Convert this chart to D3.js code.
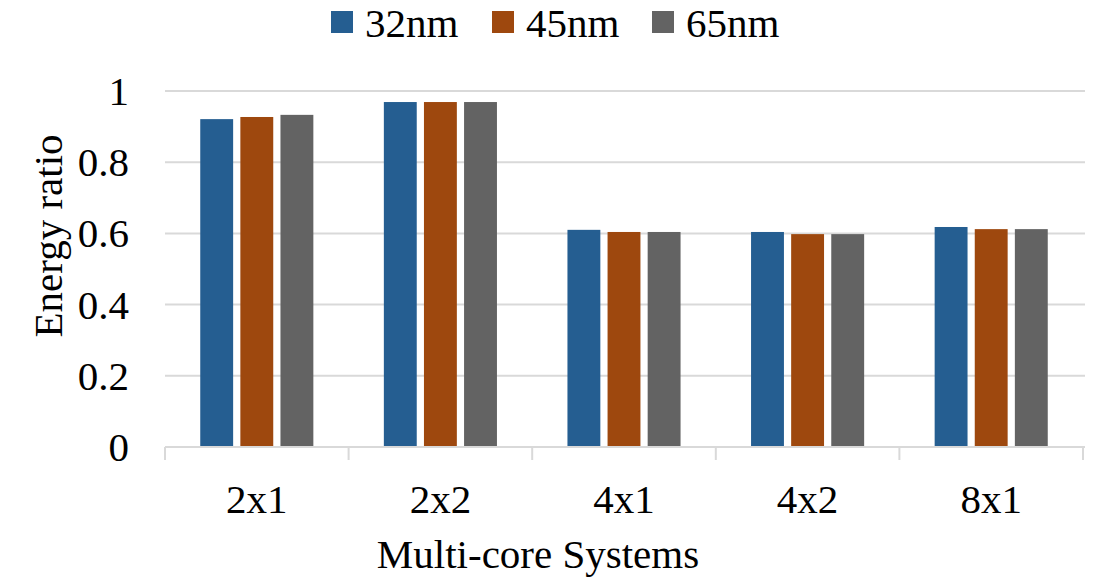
<!DOCTYPE html>
<html><head><meta charset="utf-8">
<script src="https://cdn.jsdelivr.net/npm/d3@7"></script>
<style>body{margin:0;background:#fff}svg{display:block}</style>
</head><body>
<svg id="c" width="1094" height="582"></svg>
<script>
const categories = ["2x1","2x2","4x1","4x2","8x1"];
const seriesNames = ["32nm","45nm","65nm"];
const s32 = [0.921,0.969,0.610,0.604,0.618];
const s45 = [0.927,0.969,0.604,0.598,0.612];
const s65 = [0.933,0.969,0.604,0.598,0.612];
const yTicks = [0,0.2,0.4,0.6,0.8,1];
const colors = ["#255E91","#9E480E","#636363"];
const series = [s32,s45,s65];

const FONT = "'Liberation Serif', 'Times New Roman', serif";
const FS = 41;
const svg = d3.select("#c");
const L=165,R=1083,T=91,B=447;
const x = d3.scaleBand().domain(categories).range([L,R]).paddingInner(0.384).paddingOuter(0.192);
const sub = d3.scaleBand().domain(seriesNames).range([0,x.bandwidth()]).paddingInner(0.18);
const y = d3.scaleLinear().domain([0,1]).range([B,T]);

svg.append("g").selectAll("line").data(yTicks.filter(d=>d>0)).join("line")
  .attr("x1",L).attr("x2",1085).attr("y1",d=>y(d)).attr("y2",d=>y(d))
  .attr("stroke","#d9d9d9").attr("stroke-width",2);
svg.append("g").selectAll("text").data(yTicks).join("text")
  .attr("x",129).attr("y",d=>y(d)+14).attr("text-anchor","end")
  .attr("font-family",FONT).attr("font-size",FS).text(d=>d3.format("")(d));
seriesNames.forEach((s,i)=>{
  svg.append("g").selectAll("rect").data(categories).join("rect")
    .attr("x",c=>x(c)+sub(s)).attr("width",sub.bandwidth())
    .attr("y",(c,j)=>y(series[i][j])).attr("height",(c,j)=>B-y(series[i][j]))
    .attr("fill",colors[i]);
});
svg.append("line").attr("x1",L).attr("x2",1085).attr("y1",B).attr("y2",B).attr("stroke","#d9d9d9").attr("stroke-width",2);
const bounds = d3.range(categories.length+1).map(i=>L+i*(R-L)/categories.length);
svg.append("g").selectAll("line").data(bounds).join("line")
  .attr("x1",d=>d).attr("x2",d=>d).attr("y1",B).attr("y2",460)
  .attr("stroke","#d9d9d9").attr("stroke-width",2);
svg.append("g").selectAll("text").data(categories).join("text")
  .attr("x",c=>x(c)+x.bandwidth()/2).attr("y",513).attr("text-anchor","middle")
  .attr("font-family",FONT).attr("font-size",FS).text(c=>c);
svg.append("text").attr("x",538).attr("y",568).attr("text-anchor","middle").attr("font-family",FONT).attr("font-size",FS).text("Multi-core Systems");
svg.append("text").attr("transform","translate(62,236) rotate(-90)").attr("text-anchor","middle").attr("font-family",FONT).attr("font-size",FS).text("Energy ratio");
const lx=[331,492,652];
seriesNames.forEach((s,i)=>{
  svg.append("rect").attr("x",lx[i]).attr("y",11).attr("width",22).attr("height",22).attr("fill",colors[i]);
  svg.append("text").attr("x",lx[i]+34).attr("y",37).attr("font-family",FONT).attr("font-size",FS).text(s);
});
</script>
</body></html>
